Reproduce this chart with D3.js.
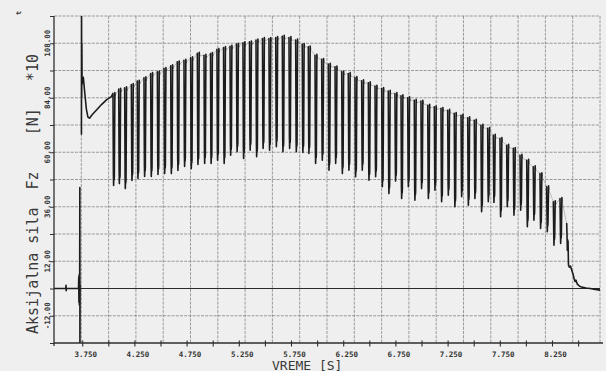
<!DOCTYPE html>
<html>
<head>
<meta charset="utf-8">
<script src="https://cdn.jsdelivr.net/npm/d3@7/dist/d3.min.js"></script>
<style>
  html, body { margin: 0; padding: 0; background: #efefef; }
  svg { display: block; }
  text { font-family: "DejaVu Sans Mono", "Liberation Mono", monospace; }
</style>
</head>
<body>
<svg id="chart" width="606" height="371"></svg>
<script>
// ---- recorded signal: axial force Fz (N x10) against time (s) ----

// pen trace before the pulsing starts (null = pen lift)
const leadTrace = [
  [3.475, 0], [3.588, 0], [3.590, 1.4], [3.592, -1.0], [3.594, 0],
  [3.710, 0], [3.712, 5], [3.714, -6], [3.716, 6], [3.718, -7],
  [3.719, 4], [3.720, -7.5], [3.721, 3],
  [3.7225, 44.5], [3.7235, -26], [3.725, 2],
  null,
  [3.738, 68], [3.739, 122], [3.7405, 84], [3.742, 108], [3.744, 90],
  [3.756, 93], [3.770, 86], [3.785, 79], [3.800, 75.5], [3.815, 75],
  [3.840, 76.5], [3.880, 78.5], [3.930, 81], [3.980, 83.2], [4.025, 84.5]
];

// time of each force drop (s)
const cycleTimes = [
  4.040, 4.095, 4.152, 4.216, 4.273, 4.337, 4.401, 4.465, 4.529, 4.593,
  4.656, 4.720, 4.784, 4.848, 4.912, 4.974, 5.036, 5.099, 5.161, 5.223,
  5.285, 5.348, 5.410, 5.472, 5.534, 5.599, 5.662, 5.726, 5.790, 5.853,
  5.911, 5.975, 6.039, 6.103, 6.167, 6.231, 6.294, 6.358, 6.422, 6.486,
  6.550, 6.614, 6.677, 6.741, 6.799, 6.863, 6.926, 6.990, 7.055, 7.118,
  7.182, 7.246, 7.309, 7.374, 7.438, 7.501, 7.565, 7.629, 7.683, 7.747,
  7.811, 7.875, 7.939, 8.003, 8.066, 8.130, 8.194, 8.258, 8.322, 8.386
];

// force at the top of each cycle
const peakValues = [
  85.9, 87.8, 88.4, 89.8, 91.3, 92.8, 94.7, 95.4, 96.9, 98.1,
  99.8, 100.5, 101.6, 103.6, 102.7, 103.5, 105.3, 106.1, 106.7, 107.6,
  108.2, 108.6, 109.4, 110.1, 110.1, 110.5, 111.1, 110.5, 109.4, 107.5,
  106.4, 102.7, 100.9, 98.8, 97.6, 95.4, 94.7, 92.9, 91.5, 90.6,
  89.1, 88.1, 86.9, 85.9, 84.9, 84.0, 82.9, 82.5, 80.7, 80.0,
  79.3, 78.5, 77.1, 76.3, 75.2, 74.1, 71.9, 70.5, 67.5, 66.1,
  63.1, 61.7, 58.7, 56.5, 53.6, 50.6, 44.8, 38.2, 39.6, 28.6
];

// force at the bottom of each cycle
const troughValues = [
  45.4, 46.2, 44.0, 47.6, 48.4, 49.3, 49.3, 50.2, 50.6, 50.6,
  52.0, 53.7, 52.8, 54.6, 55.1, 55.1, 56.5, 55.1, 58.7, 60.2,
  57.3, 60.9, 58.0, 61.7, 60.9, 62.4, 60.2, 61.7, 60.2, 59.9,
  59.5, 55.1, 56.5, 52.1, 55.1, 50.6, 52.1, 49.2, 52.1, 47.7,
  49.2, 44.8, 41.8, 47.3, 39.6, 44.8, 38.9, 44.0, 39.6, 43.3,
  38.2, 41.1, 36.0, 40.4, 36.7, 39.6, 33.8, 38.2, 37.9, 31.6,
  36.0, 32.3, 34.5, 27.2, 30.1, 26.4, 25.0, 19.1, 19.8, 16.9
];

// release after the last cycle
const tailTrace = [
  [8.403, 10.3], [8.412, 9.4], [8.422, 9.9], [8.434, 8.1], [8.449, 5.9],
  [8.458, 4.2], [8.466, 3.1], [8.474, 3.7], [8.488, 1.9], [8.510, 1.0],
  [8.530, 0.6], [8.570, 0.2], [8.610, 0], [8.660, -0.4], [8.705, -0.7]
];

// zero reference drawn by the recorder
const zeroLine = [[3.475, 0], [8.705, 0]];

// axes
const xDomain = [3.475, 8.705];
const yDomain = [-24, 120];
const xTickValues = [3.75, 4.0, 4.25, 4.5, 4.75, 5.0, 5.25, 5.5, 5.75, 6.0,
                     6.25, 6.5, 6.75, 7.0, 7.25, 7.5, 7.75, 8.0, 8.25, 8.5];
const xLabelValues = [3.75, 4.25, 4.75, 5.25, 5.75, 6.25, 6.75, 7.25, 7.75, 8.25];
const xTickLabels = ["3.750", "4.250", "4.750", "5.250", "5.750",
                     "6.250", "6.750", "7.250", "7.750", "8.250"];
const yGridValues = [-24, -12, 0, 12, 24, 36, 48, 60, 72, 84, 96, 108, 120];
const yLabelValues = [-12, 12, 36, 60, 84, 108];
const yTickLabels = ["-12.00", "12.00", "36.00", "60.00", "84.00", "108.00"];
const paperColumns = 20;   // squares across the recorder paper
const xTitle = "VREME [S]";
const yTitle = "Aksijalna sila  Fz    [N]   *10";

// ---- drawing ----
const svg = d3.select("#chart");
const W = 606, H = 371;
const plot = { left: 54, right: 600, top: 16, bottom: 343 };

const x = d3.scaleLinear().domain(xDomain).range([plot.left, plot.right]);
const y = d3.scaleLinear().domain(yDomain).range([plot.bottom, plot.top]);
const paperX = d3.scaleLinear().domain([0, paperColumns]).range([plot.left, plot.right]);

svg.append("rect").attr("width", W).attr("height", H).attr("fill", "#efefef");

svg.append("defs").append("clipPath").attr("id", "plotClip")
  .append("rect")
  .attr("x", plot.left).attr("y", plot.top)
  .attr("width", plot.right - plot.left).attr("height", plot.bottom - plot.top);

// paper grid
const grid = svg.append("g").attr("class", "grid")
  .attr("stroke", "#858585").attr("stroke-width", 0.8)
  .attr("stroke-dasharray", "3,1.2");
grid.selectAll("line.h").data(yGridValues.filter(v => v > yDomain[0]))
  .join("line").attr("class", "h")
  .attr("x1", plot.left).attr("x2", plot.right)
  .attr("y1", d => y(d)).attr("y2", d => y(d));
grid.selectAll("line.v").data(d3.range(1, paperColumns + 1))
  .join("line").attr("class", "v")
  .attr("x1", d => paperX(d)).attr("x2", d => paperX(d))
  .attr("y1", plot.top).attr("y2", plot.bottom);

// traces
const line = d3.line()
  .defined(d => d !== null)
  .x(d => x(d[0])).y(d => y(d[1]));

const traces = svg.append("g").attr("clip-path", "url(#plotClip)");

traces.append("path").datum(zeroLine)
  .attr("d", line).attr("fill", "none")
  .attr("stroke", "#2a2a2a").attr("stroke-width", 1.1);

// each cycle: fast drop from the peak, short dwell at the bottom, fast rise;
// the slow pen travel along the top between cycles leaves only a faint line
const strokes = [];
const links = [];
const n = cycleTimes.length;
cycleTimes.forEach((t, i) => {
  const pk = peakValues[i], tr = troughValues[i];
  strokes.push([t, pk], [t + 0.004, tr + 5], [t + 0.006, tr],
               [t + 0.009, tr + 4.5], [t + 0.011, tr + 2.5], [t + 0.013, tr + 4]);
  if (i < n - 1) {
    strokes.push([t + 0.018, pk + 0.4], [t + 0.020, pk - 1.2], null);
    links.push([t + 0.020, pk - 1.2], [cycleTimes[i + 1], peakValues[i + 1]], null);
  }
});

traces.append("path").datum(links)
  .attr("d", line).attr("fill", "none")
  .attr("stroke", "#8a8a8a").attr("stroke-width", 0.5);

const darkTrace = leadTrace.concat(strokes, tailTrace);
traces.append("path").datum(darkTrace)
  .attr("d", line).attr("fill", "none")
  .attr("stroke", "#1c1c1c").attr("stroke-width", 1.6)
  .attr("stroke-linejoin", "round").attr("stroke-linecap", "round");

// axis lines
const axes = svg.append("g").attr("stroke", "#2e2e2e");
axes.append("line")
  .attr("x1", plot.left).attr("x2", plot.left)
  .attr("y1", plot.top).attr("y2", plot.bottom + 3)
  .attr("stroke-width", 1.3);
axes.append("line")
  .attr("x1", plot.left).attr("x2", plot.right + 3)
  .attr("y1", plot.bottom).attr("y2", plot.bottom)
  .attr("stroke-width", 1.3);

// y ticks (left of the axis)
const yAxis = d3.axisLeft(y).tickValues(yGridValues).tickSize(4).tickFormat("");
const gy = svg.append("g").attr("transform", `translate(${plot.left},0)`).call(yAxis);
gy.select(".domain").remove();
gy.selectAll(".tick line").attr("stroke", "#2e2e2e").attr("stroke-width", 1);

// x ticks crossing the axis
svg.append("g").selectAll("line").data(xTickValues).join("line")
  .attr("x1", d => x(d)).attr("x2", d => x(d))
  .attr("y1", plot.bottom - 2.5).attr("y2", plot.bottom + 3.5)
  .attr("stroke", "#2e2e2e").attr("stroke-width", 1.1);

// tick labels
svg.append("g").selectAll("text").data(xLabelValues).join("text")
  .attr("x", d => x(d) + 3).attr("y", 356.5)
  .attr("text-anchor", "middle")
  .attr("font-size", 7.5).attr("font-weight", "bold").attr("fill", "#333")
  .text((d, i) => xTickLabels[i]);

svg.append("g").selectAll("text").data(yLabelValues).join("text")
  .attr("transform", d => `translate(49.5,${y(d)}) rotate(-90)`)
  .attr("text-anchor", "middle")
  .attr("font-size", 7.5).attr("font-weight", "bold").attr("fill", "#333")
  .text((d, i) => yTickLabels[i]);

// axis titles
svg.append("text")
  .attr("x", 272).attr("y", 369.5)
  .attr("font-size", 13).attr("fill", "#3a3a3a")
  .text(xTitle);

svg.append("text")
  .attr("transform", "translate(38,334) rotate(-90)")
  .attr("font-size", 15).attr("fill", "#3a3a3a")
  .attr("xml:space", "preserve").style("white-space", "pre")
  .text(yTitle);

// exponent mark on the y title
svg.append("text")
  .attr("transform", "translate(21,13) rotate(-90)")
  .attr("font-size", 7).attr("font-weight", "bold").attr("fill", "#333")
  .attr("text-anchor", "middle")
  .text("t");
</script>
</body>
</html>
